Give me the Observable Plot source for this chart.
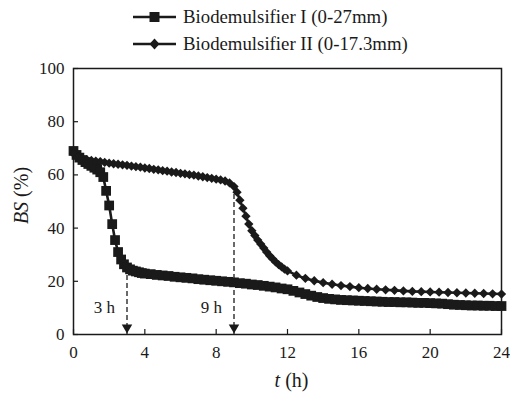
<!DOCTYPE html>
<html>
<head>
<meta charset="utf-8">
<script src="https://cdn.jsdelivr.net/npm/d3@7"></script>
<script src="https://cdn.jsdelivr.net/npm/@observablehq/plot@0.6"></script>
<style>
  html, body { margin: 0; padding: 0; background: #fff; }
  #wrap { position: relative; width: 510px; height: 393px; font-family: "Liberation Serif", "Times New Roman", serif; color: #1a1a1a; }
  #legend { position: relative; height: 59px; }
  .row { position: absolute; left: 133px; height: 24px; display: flex; align-items: center; white-space: nowrap; }
</style>
</head>
<body>
<div id="wrap">
  <div id="legend"></div>
  <div id="chart"></div>
</div>
<script>
// ---- data ----
const seriesNames = ["Biodemulsifier I (0-27mm)", "Biodemulsifier II (0-17.3mm)"];

const tI = [0,0.17,0.33,0.5,0.67,0.83,1,1.17,1.33,1.5,1.67,1.83,2,2.17,2.33,2.5,2.67,2.83,3,3.17,3.33,3.5,3.67,3.83,4,
  4.33,4.67,5,5.33,5.67,6,6.33,6.67,7,7.33,7.67,8,8.33,8.67,9,9.33,9.67,10,10.33,10.67,11,11.33,11.67,12,
  12.33,12.67,13,13.33,13.67,14,14.33,14.67,15,15.33,15.67,16,16.33,16.67,17,17.33,17.67,18,18.33,18.67,19,
  19.33,19.67,20,20.33,20.67,21,21.33,21.67,22,22.33,22.67,23,23.33,23.67,24];
const bsI = [69,67.5,66.5,65.6,64.8,64.1,63.4,62.7,62,61,59.2,54,48.5,41.5,35.5,31,28.2,26.4,25.2,24.5,24,23.7,23.4,23.1,22.9,
  22.7,22.4,22.2,22,21.7,21.5,21.3,21.1,20.8,20.6,20.4,20.2,20,19.8,19.6,19.3,19.1,18.8,18.6,18.3,18,17.7,17.3,17,
  16.4,15.8,15.2,14.6,14.1,13.7,13.4,13.2,13,12.9,12.8,12.7,12.6,12.5,12.4,12.3,12.2,12.2,12.1,12.1,12,
  11.9,11.9,11.8,11.7,11.6,11.4,11.2,11.1,11,10.9,10.9,10.8,10.8,10.7,10.7];

const tII = [0,0.25,0.5,0.75,1,1.25,1.5,1.75,2,2.25,2.5,2.75,3,3.25,3.5,3.75,4,4.25,4.5,4.75,5,5.25,5.5,5.75,6,
  6.25,6.5,6.75,7,7.25,7.5,7.75,8,8.25,8.5,8.75,9,9.17,9.33,9.5,9.67,9.83,10,10.17,10.33,10.5,10.67,10.83,11,
  11.17,11.33,11.5,11.67,11.83,12,12.5,13,13.5,14,14.5,15,15.5,16,16.5,17,17.5,18,18.5,19,19.5,20,20.5,21,
  21.5,22,22.5,23,23.5,24];
const bsII = [68,66.6,66,65.7,65.4,65.2,65,64.7,64.4,64.2,64,63.8,63.6,63.3,63.1,62.9,62.6,62.4,62.1,61.9,61.6,
  61.4,61.1,60.9,60.6,60.4,60.1,59.9,59.6,59.3,59,58.7,58.4,58.1,57.7,57,55.6,53.5,50.5,47.5,44.5,41.5,39,
  37.2,35.5,34,32.5,31,29.6,28.4,27.3,26.3,25.4,24.6,23.9,22.3,21.1,20.2,19.5,18.9,18.4,18,17.6,17.3,17,
  16.8,16.6,16.4,16.2,16.1,16,15.9,15.8,15.7,15.6,15.5,15.4,15.3,15.2];

const xTicks = [0, 4, 8, 12, 16, 20, 24];
const yTicks = [0, 20, 40, 60, 80, 100];

const markTimes = [3, 9];
const markLabels = ["3 h", "9 h"];

// ---- build ----
const ink = "#1a1a1a";
const serif = "'Liberation Serif', 'Times New Roman', serif";
const dataI = tI.map((t, i) => ({t, bs: bsI[i]}));
const dataII = tII.map((t, i) => ({t, bs: bsII[i]}));
const arrows = [
  {t: markTimes[0], top: bsI[tI.indexOf(markTimes[0])], label: markLabels[0]},
  {t: markTimes[1], top: bsII[tII.indexOf(markTimes[1])] - 3, label: markLabels[1]}
];

// legend
const legend = document.getElementById("legend");
seriesNames.forEach((name, i) => {
  const row = document.createElement("div");
  row.className = "row";
  row.style.top = (i === 0 ? 5 : 31.5) + "px";
  const marker = i === 0
    ? `<rect x="16.5" y="5" width="10" height="10" fill="${ink}"/>`
    : `<path d="M21.5,4.5 L26.5,10 L21.5,15.5 L16.5,10 Z" fill="${ink}"/>`;
  row.innerHTML = `<svg width="43" height="20" style="display:block"><line x1="0" x2="43" y1="10" y2="10" stroke="${ink}" stroke-width="2.6"/>${marker}</svg><span style="margin-left:7px;font-family:${serif};font-size:18.8px;color:${ink}">${name}</span>`;
  legend.appendChild(row);
});

const plot = Plot.plot({
  width: 510,
  height: 334,
  marginTop: 9,
  marginBottom: 59,
  marginLeft: 73,
  marginRight: 9,
  style: {fontFamily: serif, fontSize: "17px", color: ink, background: "white"},
  x: {domain: [0, 24]},
  y: {domain: [0, 100]},
  marks: [
    Plot.frame({stroke: ink, strokeWidth: 1.5}),
    Plot.axisX({ticks: xTicks, tickSize: -5, tickPadding: 16, tickFormat: d => d, label: "t (h)", labelAnchor: "center", labelOffset: 52, labelArrow: false, strokeWidth: 1.2}),
    Plot.axisY({ticks: yTicks, tickSize: -5, tickPadding: 14, tickFormat: d => d, label: "BS (%)", labelAnchor: "center", labelOffset: 60, labelArrow: false, strokeWidth: 1.2}),
    Plot.ruleX(arrows, {x: "t", y1: "top", y2: 0, stroke: ink, strokeWidth: 1.3, strokeDasharray: "5,3"}),
    Plot.dot(arrows, {x: "t", frameAnchor: "bottom", dy: -7, symbol: "triangle", r: 3.9, rotate: 180, fill: ink, stroke: "none"}),
    Plot.text(arrows, {x: "t", text: "label", frameAnchor: "bottom", dy: -22, dx: -12, textAnchor: "end", fontSize: 17, fill: ink}),
    Plot.line(dataI, {x: "t", y: "bs", stroke: ink, strokeWidth: 2.6}),
    Plot.dot(dataI, {x: "t", y: "bs", symbol: "square", r: 5.5, fill: ink, stroke: "none"}),
    Plot.line(dataII, {x: "t", y: "bs", stroke: ink, strokeWidth: 2.6}),
    Plot.dot(dataII, {x: "t", y: "bs", symbol: "diamond2", r: 4.2, fill: ink, stroke: "none"})
  ]
});

document.getElementById("chart").appendChild(plot);

// italic variable names in axis labels
const svg = d3.select(plot);
svg.selectAll('g[aria-label="y-axis label"] text')
  .attr("font-size", 20)
  .attr("dx", 6)
  .html('<tspan font-style="italic">BS</tspan> (%)');
svg.selectAll('g[aria-label="x-axis label"] text')
  .attr("font-size", 20)
  .attr("dx", 4)
  .html('<tspan font-style="italic">t</tspan> (h)');
</script>
</body>
</html>
